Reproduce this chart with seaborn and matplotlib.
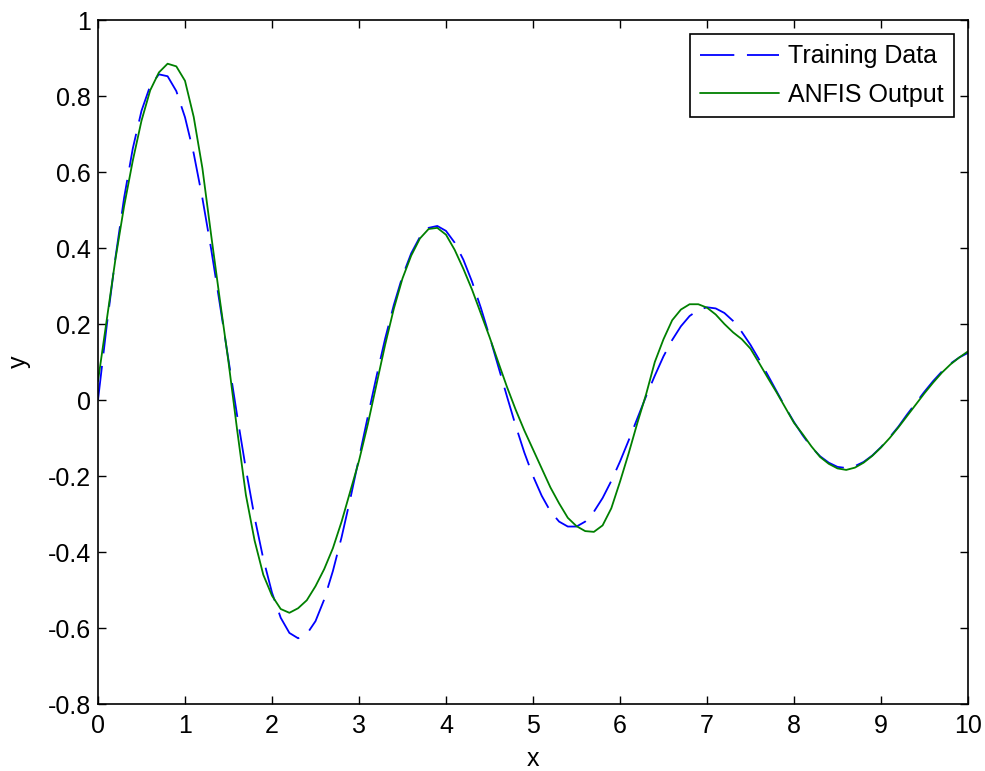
import numpy as np
import pandas as pd
import matplotlib
matplotlib.use("Agg")
import matplotlib.pyplot as plt
import seaborn as sns

# ---- data ----
x_vals = np.linspace(0, 10, 101)

training_data = [
    0.000, 0.195, 0.374, 0.532, 0.662, 0.761, 0.827, 0.857, 0.852, 0.813,
    0.744, 0.649, 0.531, 0.398, 0.253, 0.105, -0.042, -0.182, -0.309, -0.418,
    -0.507, -0.573, -0.613, -0.627, -0.616, -0.582, -0.525, -0.450, -0.361, -0.260,
    -0.153, -0.045, 0.061, 0.161, 0.250, 0.326, 0.386, 0.429, 0.453, 0.458,
    0.445, 0.414, 0.369, 0.311, 0.243, 0.168, 0.089, 0.010, -0.067, -0.138,
    -0.200, -0.252, -0.293, -0.320, -0.333, -0.333, -0.320, -0.294, -0.258, -0.213,
    -0.162, -0.106, -0.048, 0.010, 0.064, 0.115, 0.158, 0.194, 0.221, 0.237,
    0.244, 0.241, 0.229, 0.208, 0.179, 0.145, 0.106, 0.065, 0.023, -0.019,
    -0.058, -0.093, -0.124, -0.148, -0.165, -0.176, -0.179, -0.174, -0.163, -0.146,
    -0.124, -0.098, -0.070, -0.038, -0.008, 0.022, 0.050, 0.075, 0.096, 0.112,
    0.124,
]

anfis_output = [
    0.050, 0.210, 0.370, 0.510, 0.630, 0.735, 0.815, 0.862, 0.885, 0.878,
    0.840, 0.745, 0.610, 0.435, 0.265, 0.100, -0.080, -0.250, -0.370, -0.460,
    -0.515, -0.550, -0.560, -0.548, -0.527, -0.490, -0.445, -0.390, -0.320, -0.240,
    -0.160, -0.065, 0.040, 0.145, 0.240, 0.320, 0.380, 0.425, 0.450, 0.453,
    0.435, 0.395, 0.345, 0.290, 0.228, 0.166, 0.100, 0.035, -0.025, -0.080,
    -0.130, -0.180, -0.230, -0.272, -0.310, -0.332, -0.345, -0.347, -0.330, -0.285,
    -0.215, -0.140, -0.060, 0.015, 0.100, 0.160, 0.210, 0.238, 0.252, 0.252,
    0.243, 0.225, 0.200, 0.178, 0.160, 0.135, 0.097, 0.058, 0.020, -0.020,
    -0.060, -0.090, -0.122, -0.150, -0.168, -0.180, -0.184, -0.178, -0.165, -0.147,
    -0.125, -0.100, -0.072, -0.042, -0.012, 0.018, 0.046, 0.072, 0.094, 0.112,
    0.128,
]

x_ticks = [0, 1, 2, 3, 4, 5, 6, 7, 8, 9, 10]
y_ticks = [-0.8, -0.6, -0.4, -0.2, 0, 0.2, 0.4, 0.6, 0.8, 1]
series_names = ["Training Data", "ANFIS Output"]

# ---- style ----
sns.set_theme(style="white")
plt.rcParams["font.family"] = ["Liberation Sans", "DejaVu Sans"]
plt.rcParams["axes.unicode_minus"] = False

FS = 18

fig = plt.figure(figsize=(9.85, 7.71), dpi=100)
ax = fig.add_axes([98 / 985, 1 - 704 / 771, 870 / 985, 684 / 771])

df_train = pd.DataFrame({"x": x_vals, "y": training_data})
df_anfis = pd.DataFrame({"x": x_vals, "y": anfis_output})

sns.lineplot(data=df_train, x="x", y="y", ax=ax, color=(0, 0, 1),
             linewidth=1.3, linestyle=(0, (19, 7)), label=series_names[0])
sns.lineplot(data=df_anfis, x="x", y="y", ax=ax, color=(0, 0.5, 0),
             linewidth=1.3, label=series_names[1])

ax.set_xlim(0, 10)
ax.set_ylim(-0.8, 1)
ax.set_xticks(x_ticks)
ax.set_yticks(y_ticks)
ax.set_xticklabels([f"{v:g}" for v in x_ticks])
ax.set_yticklabels([f"{v:g}" for v in y_ticks])

for s in ax.spines.values():
    s.set_visible(True)
    s.set_color("black")
    s.set_linewidth(1.2)

ax.tick_params(axis="both", which="both", direction="in", length=6,
               width=1.0, color="black", labelsize=FS, labelcolor="black",
               top=True, right=True, bottom=True, left=True)
ax.tick_params(axis="x", pad=7)
ax.tick_params(axis="y", pad=5)

ax.set_xlabel("x", fontsize=FS, color="black", labelpad=7)
ax.set_ylabel("y", fontsize=FS, color="black", labelpad=12)

leg = ax.legend(loc="upper right", fontsize=FS, frameon=True, fancybox=False,
                framealpha=1, edgecolor="black", handlelength=3.16,
                handletextpad=0.36, borderaxespad=0.55, labelspacing=0.58,
                borderpad=0.42)
leg.get_frame().set_linewidth(1.2)
for t in leg.get_texts():
    t.set_color("black")

fig.savefig("out.png", dpi=100, facecolor="white")
